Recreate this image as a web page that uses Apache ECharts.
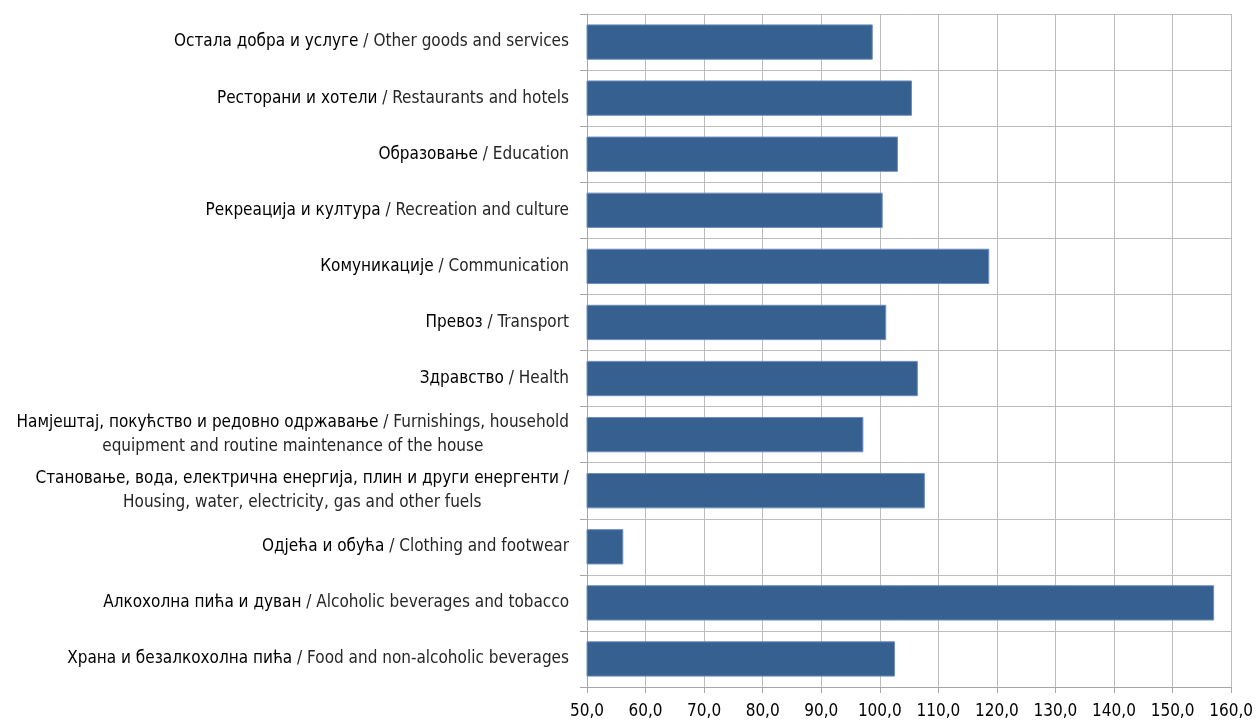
<!DOCTYPE html>
<html><head><meta charset="utf-8">
<script src="https://cdn.jsdelivr.net/npm/echarts@6/dist/echarts.min.js"></script>
<style>html,body{margin:0;padding:0;background:#fff}#c{width:1256px;height:722px}</style>
</head><body><div id="c"></div>
<script>
var labelsSr = [
  'Храна и безалкохолна пића',
  'Алкохолна пића и дуван',
  'Одјећа и обућа',
  'Становање, вода, електрична енергија, плин и други енергенти /',
  'Намјештај, покућство и редовно одржавање',
  'Здравство',
  'Превоз',
  'Комуникације',
  'Рекреација и култура',
  'Образовање',
  'Ресторани и хотели',
  'Остала добра и услуге'
];
var labelsEn = [
  'Food and non-alcoholic beverages',
  'Alcoholic beverages and tobacco',
  'Clothing and footwear',
  'Housing, water, electricity, gas and other fuels',
  'Furnishings, household\nequipment and routine maintenance of the house',
  'Health',
  'Transport',
  'Communication',
  'Recreation and culture',
  'Education',
  'Restaurants and hotels',
  'Other goods and services'
];
var values = [102.6, 157.1, 56.2, 107.7, 97.2, 106.5, 101.1, 118.7, 100.5, 103.1, 105.5, 98.8];
var xTicks = {min: 50, max: 160, interval: 10};

var categories = labelsSr.map(function(s, i){ return String(i); });

function fmtLabel(v, idx) {
  var i = Number(v);
  var sr = labelsSr[i], en = labelsEn[i];
  if (i === 3) {
    return '{src|' + sr + '}\n{enc|' + en + '}';
  }
  if (i === 4) {
    var parts = en.split('\n');
    return '{src|' + sr + '}{enc| / ' + parts[0] + '}\n{enc|' + parts[1] + '}';
  }
  return '{sr|' + sr + '}{en| / ' + en + '}';
}

var FONT = "'Liberation Sans Narrow', 'Arial Narrow', 'DejaVu Sans Condensed', sans-serif";
var FS = 17;
var chart = echarts.init(document.getElementById('c'));
chart.setOption({
  animation: false,
  backgroundColor: '#fff',
  grid: {left: 587, right: 24, top: 14, bottom: 35, containLabel: false},
  xAxis: {
    type: 'value', min: xTicks.min, max: xTicks.max, interval: xTicks.interval,
    axisLine: {show: true, lineStyle: {color: '#a6a6a6', width: 1}},
    axisTick: {show: true, length: 6, lineStyle: {color: '#a6a6a6'}},
    splitLine: {show: true, lineStyle: {color: '#bdbdbd', width: 1}},
    axisLabel: {
      color: '#000', fontSize: FS, fontFamily: FONT, margin: 16,
      formatter: function(v){ return v.toFixed(1).replace('.', ','); }
    }
  },
  yAxis: {
    type: 'category', data: categories,
    axisLine: {show: true, lineStyle: {color: '#a6a6a6', width: 1}},
    axisTick: {show: true, length: 7, lineStyle: {color: '#a6a6a6'}},
    splitLine: {show: true, lineStyle: {color: '#bdbdbd', width: 1}},
    axisLabel: {
      margin: 18, fontFamily: FONT, fontSize: FS, lineHeight: 24,
      formatter: fmtLabel,
      rich: {
        sr: {color: '#000', fontFamily: FONT, fontSize: FS},
        en: {color: '#262626', fontFamily: FONT, fontSize: FS},
        src: {color: '#000', fontFamily: FONT, fontSize: FS, align: 'center', lineHeight: 24},
        enc: {color: '#262626', fontFamily: FONT, fontSize: FS, align: 'center', lineHeight: 24}
      }
    }
  },
  series: [{
    type: 'bar', data: values, barCategoryGap: '37%',
    itemStyle: {color: '#36608f', borderColor: '#6d8fbf', borderWidth: 1},
    silent: true
  }]
});
</script></body></html>
